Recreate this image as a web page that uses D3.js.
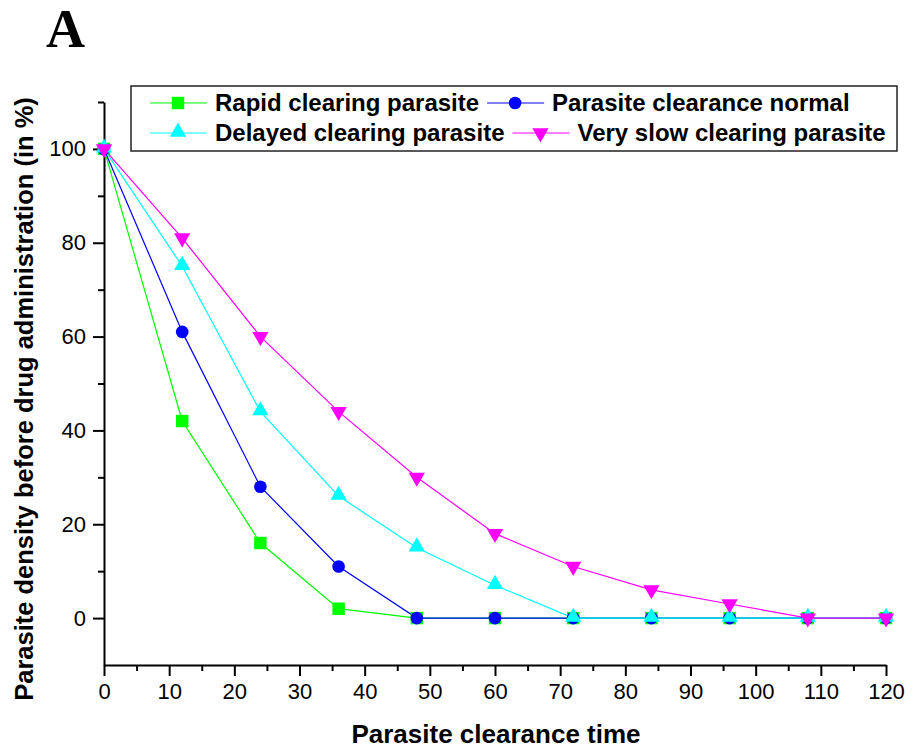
<!DOCTYPE html>
<html>
<head>
<meta charset="utf-8">
<script src="https://cdn.jsdelivr.net/npm/d3@7/dist/d3.min.js"></script>
<style>
  body { margin: 0; background: #fff; }
  svg { display: block; font-family: "Liberation Sans", Arial, sans-serif; }
</style>
</head>
<body>
<svg width="912" height="752"></svg>
<script>
// data
const times = [0, 12, 24, 36, 48, 60, 72, 84, 96, 108, 120];
const rapid = [100, 42, 16, 2, 0, 0, 0, 0, 0, 0, 0];
const normal = [100, 61, 28, 11, 0, 0, 0, 0, 0, 0, 0];
const delayed = [100, 75, 44, 26, 15, 7, 0, 0, 0, 0, 0];
const verySlow = [100, 81, 60, 44, 30, 18, 11, 6, 3, 0, 0];

const seriesNames = ["Rapid clearing parasite", "Parasite clearance normal",
                     "Delayed clearing parasite", "Very slow clearing parasite"];
const seriesColors = ["#00ff00", "#0000ff", "#00ffff", "#ff00ff"];
const seriesData = [rapid, normal, delayed, verySlow];

const xTicks = [0, 10, 20, 30, 40, 50, 60, 70, 80, 90, 100, 110, 120];
const xMinor = [5, 15, 25, 35, 45, 55, 65, 75, 85, 95, 105, 115];
const yTicks = [0, 20, 40, 60, 80, 100];
const yMinor = [10, 30, 50, 70, 90, 110];

const svg = d3.select("svg");

let x = d3.scaleLinear().domain([0, 120]).range([104, 886]);
let y = d3.scaleLinear().domain([-10, 110]).range([665, 102]);

// symbols
const symbolFor = [
  d3.symbol().type(d3.symbolSquare).size(155),
  d3.symbol().type(d3.symbolCircle).size(125),
  d3.symbol().type(d3.symbolTriangle).size(115),
  d3.symbol().type(d3.symbolTriangle).size(115)
];
function marker(g, idx, cx, cy) {
  let p = g.append("path")
    .attr("d", symbolFor[idx]())
    .attr("fill", seriesColors[idx]);
  if (idx == 3) p.attr("transform", `translate(${cx},${cy}) rotate(180)`);
  else if (idx == 2) p.attr("transform", `translate(${cx},${cy - 1})`);
  else p.attr("transform", `translate(${cx},${cy})`);
}

// axes
let xAxis = svg.append("g").attr("transform", "translate(0,665)")
  .call(d3.axisBottom(x).tickValues(xTicks).tickSize(11).tickPadding(7).tickSizeOuter(0));
svg.append("g").attr("transform", "translate(0,665)")
  .call(d3.axisBottom(x).tickValues(xMinor).tickSize(6).tickFormat("").tickSizeOuter(0))
  .select(".domain").remove();

let yAxis = svg.append("g").attr("transform", "translate(104,0)")
  .call(d3.axisLeft(y).tickValues(yTicks).tickSize(11).tickPadding(7).tickSizeOuter(0));
svg.append("g").attr("transform", "translate(104,0)")
  .call(d3.axisLeft(y).tickValues(yMinor).tickSize(6).tickFormat("").tickSizeOuter(0))
  .select(".domain").remove();

svg.selectAll(".domain, .tick line").attr("stroke", "#000").attr("stroke-width", 2);
svg.selectAll(".tick text").attr("font-size", 22).attr("fill", "#000")
  .attr("font-family", "Liberation Sans, Arial, sans-serif");

// lines
let line = d3.line().x((d) => x(d[0])).y((d) => y(d[1]));
seriesData.forEach((vals, idx) => {
  let pts = times.map((t, i) => [t, vals[i]]);
  svg.append("path")
    .attr("d", line(pts))
    .attr("fill", "none")
    .attr("stroke", seriesColors[idx])
    .attr("stroke-width", 1.2);
});
seriesData.forEach((vals, idx) => {
  let g = svg.append("g");
  times.forEach((t, i) => marker(g, idx, x(t), y(vals[i])));
});

// legend
svg.append("rect")
  .attr("x", 131).attr("y", 86).attr("width", 766).attr("height", 65)
  .attr("fill", "#fff").attr("stroke", "#222").attr("stroke-width", 1.5);

const legendRows = [[0, 1], [2, 3]];
const rowY = [103, 133];
legendRows.forEach((row, r) => {
  let lx = 150;
  row.forEach((idx) => {
    let g = svg.append("g");
    g.append("line").attr("x1", lx).attr("x2", lx + 57)
      .attr("y1", rowY[r]).attr("y2", rowY[r])
      .attr("stroke", seriesColors[idx]).attr("stroke-width", 1.2);
    marker(g, idx, lx + 28, rowY[r]);
    let t = g.append("text")
      .attr("x", lx + 65).attr("y", rowY[r] + 8)
      .attr("font-size", 24).attr("font-weight", "bold")
      .text(seriesNames[idx]);
    lx = lx + 65 + t.node().getComputedTextLength() + 8;
  });
});

// axis titles
svg.append("text")
  .attr("x", 496).attr("y", 743)
  .attr("text-anchor", "middle")
  .attr("font-size", 26).attr("font-weight", "bold")
  .text("Parasite clearance time");

svg.append("text")
  .attr("transform", "translate(33,399) rotate(-90)")
  .attr("text-anchor", "middle")
  .attr("font-size", 25.5).attr("font-weight", "bold")
  .text("Parasite density before drug administration (in %)");

// panel letter
svg.append("text")
  .attr("x", 46).attr("y", 47)
  .attr("font-family", "Liberation Serif, Times New Roman, serif")
  .attr("font-size", 54).attr("font-weight", "bold")
  .text("A");
</script>
</body>
</html>
